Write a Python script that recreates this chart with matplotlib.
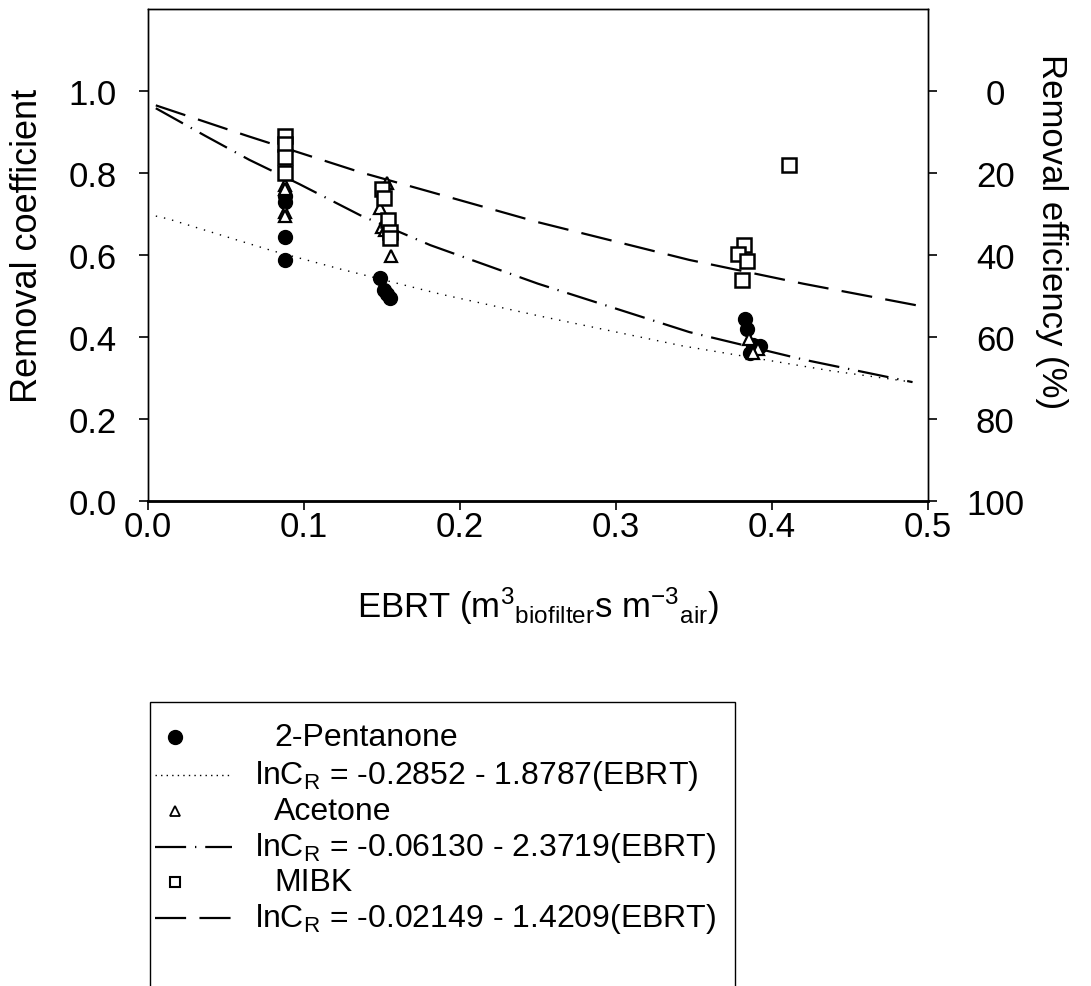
import numpy as np
import matplotlib
matplotlib.use("Agg")
import matplotlib.pyplot as plt
from matplotlib.lines import Line2D
from matplotlib.patches import Rectangle

plt.rcParams['font.family'] = ['Liberation Sans', 'DejaVu Sans']
plt.rcParams['mathtext.fontset'] = 'custom'
plt.rcParams['mathtext.rm'] = 'Liberation Sans'
plt.rcParams['mathtext.it'] = 'Liberation Sans'

# Datos
x_pent = [0.088, 0.088, 0.088, 0.088, 0.149, 0.151, 0.153, 0.155, 0.383, 0.384, 0.388, 0.392, 0.386]
y_pent = [0.745, 0.73, 0.645, 0.588, 0.545, 0.515, 0.505, 0.495, 0.445, 0.42, 0.38, 0.378, 0.36]

x_acet = [0.088, 0.088, 0.088, 0.088, 0.153, 0.149, 0.150, 0.152, 0.156, 0.385, 0.391, 0.388]
y_acet = [0.77, 0.76, 0.705, 0.695, 0.775, 0.715, 0.668, 0.66, 0.598, 0.395, 0.37, 0.36]

x_mibk = [0.088, 0.088, 0.088, 0.088, 0.150, 0.151, 0.154, 0.155, 0.155, 0.382, 0.378, 0.384, 0.381, 0.411]
y_mibk = [0.89, 0.87, 0.84, 0.80, 0.76, 0.74, 0.685, 0.655, 0.642, 0.625, 0.603, 0.585, 0.538, 0.82]

# Curvas de ajuste
xc_pent = [0.005, 0.013, 0.061, 0.080, 0.123, 0.187, 0.25, 0.343, 0.437, 0.49]
yc_pent = [0.695, 0.688, 0.632, 0.610, 0.566, 0.505, 0.452, 0.378, 0.318, 0.29]

xc_acet = [0.005, 0.037, 0.065, 0.097, 0.136, 0.181, 0.25, 0.347, 0.42, 0.49]
yc_acet = [0.958, 0.89, 0.832, 0.773, 0.697, 0.624, 0.53, 0.412, 0.345, 0.29]

xc_mibk = [0.005, 0.064, 0.136, 0.181, 0.25, 0.347, 0.42, 0.5]
yc_mibk = [0.965, 0.89, 0.802, 0.754, 0.68, 0.588, 0.53, 0.472]

etiquetas = ['2-Pentanone', r'lnC$_\mathrm{R}$ = -0.2852 - 1.8787(EBRT)',
             'Acetone', r'lnC$_\mathrm{R}$ = -0.06130 - 2.3719(EBRT)',
             'MIBK', r'lnC$_\mathrm{R}$ = -0.02149 - 1.4209(EBRT)']

W, H = 1091, 987
fig = plt.figure(figsize=(W / 100, H / 100), dpi=100)
ax = fig.add_axes([148/W, 1-502/H, 780/W, 492/H])

estilo_pent = (0, (1, 5))
estilo_acet = (0, (14, 4, 0.6, 4))
estilo_mibk = (0, (14, 6))

ax.plot(xc_pent, yc_pent, color='black', lw=1.0, ls=estilo_pent)
ax.plot(xc_acet, yc_acet, color='black', lw=1.6, ls=estilo_acet)
ax.plot(xc_mibk, yc_mibk, color='black', lw=1.6, ls=estilo_mibk)

ax.plot(x_pent, y_pent, 'o', color='black', ms=10, ls='none')
ax.plot(x_acet, y_acet, '^', mfc='white', mec='black', mew=1.6, ms=9, ls='none')
ax.plot(x_mibk, y_mibk, 's', mfc='white', mec='black', mew=1.8, ms=9.5, ls='none')

ax.set_xlim(0, 0.5)
ax.set_ylim(0, 1.2)
ax.set_xticks([0.0, 0.1, 0.2, 0.3, 0.4, 0.5])
ax.set_xticklabels(['0.0', '0.1', '0.2', '0.3', '0.4', '0.5'])
ax.set_yticks([0.0, 0.2, 0.4, 0.6, 0.8, 1.0])
ax.set_yticklabels(['0.0', '0.2', '0.4', '0.6', '0.8', '1.0'])
ax.tick_params(axis='y', labelsize=25, length=6.5, width=1.2, direction='out', pad=16)
ax.tick_params(axis='x', labelsize=25, length=6.5, width=1.2, direction='out', pad=0)
for s in ax.spines.values():
    s.set_linewidth(1.0)
ax.spines['bottom'].set_linewidth(2.0)

ax.set_ylabel('Removal coefficient', fontsize=26)
ax.yaxis.set_label_coords(-0.132, 0.52)
ax.set_xlabel(r'EBRT (m$^{3}{}_{\mathrm{biofilter}}$s m$^{-3}{}_{\mathrm{air}}$)',
              fontsize=25, labelpad=30)

# Eje derecho: eficiencia de remocion
ax2 = ax.twinx()
ax2.set_ylim(100, -20)
ax2.set_yticks([0, 20, 40, 60, 80, 100])
ax2.tick_params(labelsize=25, length=6.5, width=1.2, direction='out', pad=42)
for lab in ax2.get_yticklabels():
    lab.set_horizontalalignment('center')
ax2.set_ylabel('Removal efficiency (%)', fontsize=25, rotation=270)
ax2.yaxis.set_label_coords(1.18, 0.55)
for s in ax2.spines.values():
    s.set_linewidth(1.0)

# Leyenda dibujada a mano
filas_y = [738, 776, 812, 848, 883, 919]
simbolos = [
    dict(marker='o', color='black', ls='none', ms=10),
    dict(color='black', lw=1.0, ls=(0, (1, 3))),
    dict(marker='^', mfc='white', mec='black', mew=1.3, ls='none', ms=7),
    dict(color='black', lw=1.6, ls=(0, (14, 4, 0.6, 4))),
    dict(marker='s', mfc='white', mec='black', mew=1.5, ls='none', ms=7),
    dict(color='black', lw=1.6, ls=(0, (14, 6))),
]
for fy, sim, txt in zip(filas_y, simbolos, etiquetas):
    yf = 1 - fy / H
    if 'marker' in sim:
        fig.add_artist(Line2D([175/W], [yf], transform=fig.transFigure, **sim))
        tx = 274
    else:
        fig.add_artist(Line2D([155/W, 232/W], [yf, yf], transform=fig.transFigure, **sim))
        tx = 255
    fig.text(tx/W, yf, txt, fontsize=23, va='center', ha='left')
fig.add_artist(Rectangle((150/W, -0.05), 585/W, 0.05 + (H-703)/H,
                         transform=fig.transFigure, fill=False, ec='black', lw=1.0))

fig.savefig('out.png', dpi=100)
